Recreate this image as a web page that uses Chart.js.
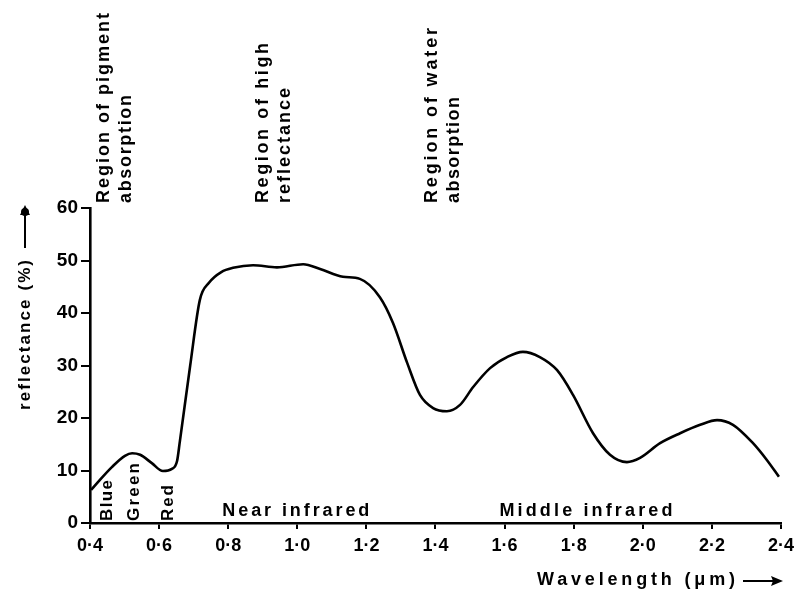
<!DOCTYPE html>
<html>
<head>
<meta charset="utf-8">
<script src="https://cdn.jsdelivr.net/npm/chart.js@4.4.1/dist/chart.umd.min.js"></script>
<style>
html,body{margin:0;padding:0;background:#fff;}
#wrap{width:801px;height:592px;position:relative;}
</style>
</head>
<body>
<div id="wrap"><canvas id="c" width="801" height="592"></canvas></div>
<script>
// Wavelength (µm) and reflectance (%)
const wavelength = [0.403,0.423,0.464,0.501,0.522,0.545,0.579,0.611,0.637,0.652,0.660,0.690,0.718,0.745,0.780,0.814,0.872,0.941,1.017,1.066,1.132,1.181,1.239,1.277,1.318,1.355,1.393,1.433,1.471,1.509,1.558,1.607,1.653,1.702,1.752,1.798,1.856,1.905,1.954,1.992,2.050,2.108,2.166,2.215,2.261,2.319,2.359,2.394];
const reflectance = [6.3,7.8,10.7,12.8,13.3,13.0,11.4,9.9,10.3,11.8,15.5,30.0,42.5,45.8,47.8,48.6,49.1,48.7,49.3,48.4,46.9,46.5,43.0,38.1,30.5,24.4,21.9,21.3,22.5,25.9,29.5,31.6,32.6,31.6,29.1,24.4,17.1,13.0,11.6,12.4,15.2,17.1,18.7,19.6,18.7,15.2,12.0,8.8];
const xTickLabels = {"0.4":"0·4","0.6":"0·6","0.8":"0·8","1":"1·0","1.2":"1·2","1.4":"1·4","1.6":"1·6","1.8":"1·8","2":"2·0","2.2":"2·2","2.4":"2·4"};
const yTicks = [0,10,20,30,40,50,60];
const regionLabels = [
  {lines:["Region of pigment","absorption"], at:0.44},
  {lines:["Region of high","reflectance"], at:0.90},
  {lines:["Region of water","absorption"], at:1.39}
];
const bandLabels = [{t:"Blue",at:0.451},{t:"Green",at:0.527},{t:"Red",at:0.628}];
const rangeLabels = [{t:"Near infrared",at:1.0},{t:"Middle infrared",at:1.84}];
const xTitle = "Wavelength (\u03BCm)";
const yTitle = "reflectance (%)";

const FONT = '"Liberation Sans", Arial, sans-serif';

function fitText(ctx, text, len){
  ctx.letterSpacing = '0px';
  const w = ctx.measureText(text).width;
  const sp = (len - w)/Math.max(1,text.length-1);
  ctx.letterSpacing = sp + 'px';
}

const annot = {
  id:'annot',
  afterDraw(chart){
    const ctx = chart.ctx;
    const xs = chart.scales.x;
    const top = chart.chartArea.top, bottom = chart.chartArea.bottom;
    ctx.save();
    ctx.fillStyle = '#000';
    ctx.strokeStyle = '#000';
    ctx.font = 'bold 18px ' + FONT;
    ctx.textBaseline = 'middle';
    ctx.textAlign = 'left';
    // rotated region labels
    const regLens = [[190,108],[160,115],[175,106]];
    regionLabels.forEach((r,i)=>{
      const cx = xs.getPixelForValue(r.at);
      r.lines.forEach((ln,j)=>{
        ctx.save();
        ctx.translate(cx + j*22, top - 5);
        ctx.rotate(-Math.PI/2);
        fitText(ctx, ln, regLens[i][j]);
        ctx.fillText(ln, 0, 0);
        ctx.restore();
      });
    });
    // band labels
    ctx.font = 'bold 17px ' + FONT;
    const bandLens = [41,58,36];
    bandLabels.forEach((b,i)=>{
      const cx = xs.getPixelForValue(b.at);
      ctx.save();
      ctx.translate(cx, bottom - 2);
      ctx.rotate(-Math.PI/2);
      fitText(ctx, b.t, bandLens[i]);
      ctx.fillText(b.t, 0, 0);
      ctx.restore();
    });
    // range labels
    ctx.font = 'bold 18px ' + FONT;
    ctx.textAlign = 'center';
    const rangeLens = [147,173];
    rangeLabels.forEach((r,i)=>{
      fitText(ctx, r.t, rangeLens[i]);
      ctx.fillText(r.t, xs.getPixelForValue(r.at), bottom - 12);
    });
    // x title
    ctx.textAlign = 'left';
    fitText(ctx, xTitle, 198);
    ctx.fillText(xTitle, 537, 580);
    ctx.letterSpacing = '0px';
    ctx.lineWidth = 2;
    ctx.beginPath(); ctx.moveTo(743,581); ctx.lineTo(775,581); ctx.stroke();
    ctx.beginPath(); ctx.moveTo(783,581); ctx.lineTo(771,576); ctx.lineTo(773,581); ctx.lineTo(771,586); ctx.closePath(); ctx.fill();
    // y title
    ctx.save();
    ctx.translate(25, 410);
    ctx.rotate(-Math.PI/2);
    ctx.font = 'bold 17px ' + FONT;
    fitText(ctx, yTitle, 150);
    ctx.fillText(yTitle, 0, 0);
    ctx.letterSpacing = '0px';
    ctx.beginPath(); ctx.moveTo(162,0); ctx.lineTo(196,0); ctx.stroke();
    ctx.beginPath(); ctx.arc(198,0,4,0,Math.PI*2); ctx.fill();
    ctx.beginPath(); ctx.moveTo(205,0); ctx.lineTo(195,-5); ctx.lineTo(195,5); ctx.closePath(); ctx.fill();
    ctx.restore();
    ctx.restore();
  }
};

new Chart(document.getElementById('c'), {
  type:'line',
  data:{ datasets:[{
    data: wavelength.map((w,i)=>({x:w,y:reflectance[i]})),
    borderColor:'#000', borderWidth:2.6, pointRadius:0, cubicInterpolationMode:'monotone', fill:false
  }]},
  options:{
    responsive:false, animation:false,
    layout:{padding:{left:40,top:208,right:20,bottom:0}},
    plugins:{legend:{display:false},tooltip:{enabled:false}},
    scales:{
      x:{type:'linear',min:0.4,max:2.4,
        afterFit(s){s.height=69;},
        afterBuildTicks(s){s.ticks=Object.keys(xTickLabels).map(k=>({value:parseFloat(k)}));},
        ticks:{color:'#000',font:{family:FONT,size:18,weight:'bold'},padding:6,maxRotation:0,autoSkip:false,
          callback:(v)=>xTickLabels[String(Math.round(v*10)/10)]},
        grid:{drawOnChartArea:false,color:'#000',lineWidth:2,tickLength:6},
        border:{color:'#000',width:2.6}
      },
      y:{min:0,max:60,
        afterFit(s){s.width=50;},
        afterBuildTicks(s){s.ticks=yTicks.map(v=>({value:v}));},
        ticks:{color:'#000',font:{family:FONT,size:19,weight:'bold'},padding:3},
        grid:{drawOnChartArea:false,color:'#000',lineWidth:2,tickLength:9},
        border:{color:'#000',width:2.6}
      }
    }
  },
  plugins:[annot]
});
</script>
</body>
</html>
